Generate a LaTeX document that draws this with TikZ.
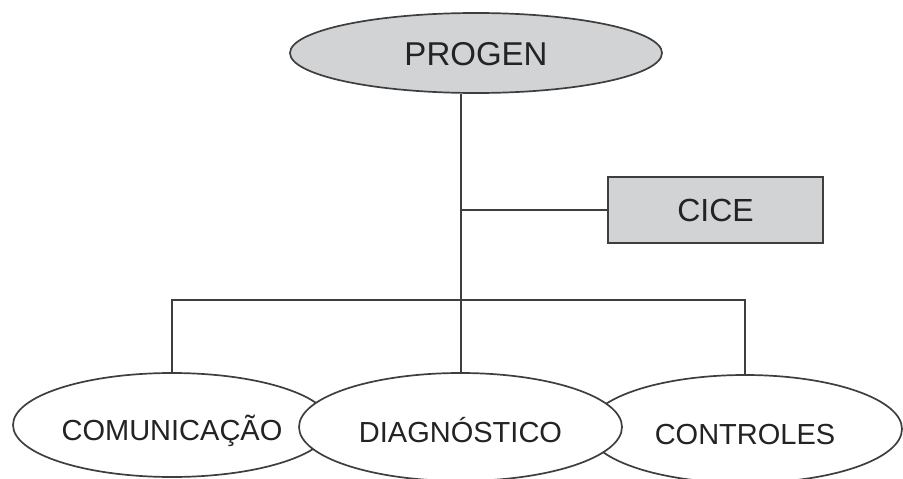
\documentclass[tikz,border=0pt]{standalone}
\usepackage{fontspec}
\setmainfont{Liberation Sans}
\usetikzlibrary{shapes.geometric}
\definecolor{boxfill}{RGB}{209,211,213}
\definecolor{linecol}{RGB}{62,62,62}
\definecolor{textcol}{RGB}{35,35,35}
\tikzset{
  conn/.style={draw=linecol, line width=2pt},
  topel/.style={ellipse, draw=linecol, line width=1.7pt, fill=boxfill, inner sep=0pt,
    text=textcol, font=\fontsize{33}{38}\selectfont, text height=25pt, text depth=0pt},
  sidebox/.style={rectangle, draw=linecol, line width=1.8pt, fill=boxfill, inner sep=0pt,
    text=textcol, font=\fontsize{32}{36}\selectfont, text height=23pt, text depth=0pt},
  botel/.style={ellipse, draw=linecol, line width=1.7pt, fill=white, inner sep=0pt,
    text=textcol, font=\fontsize{29}{34}\selectfont, text height=31pt, text depth=0pt},
}
\begin{document}
\begin{tikzpicture}[x=1pt, y=-1pt]
\useasboundingbox (0,0) rectangle (903,479);
\node[topel, minimum width=372pt, minimum height=80pt] (progen) at (476,53) {PROGEN\hspace{20pt}};
\node[sidebox, minimum width=215pt, minimum height=66pt] (cice) at (715.5,210) {CICE};
\coordinate (bar) at (461,300);
\node[botel, minimum width=318pt, minimum height=104pt] (com) at (172,425) {COMUNICAÇÃO};
\node[botel, minimum width=314pt, minimum height=108pt] (ctl) at (745,429) {CONTROLES};
\draw[conn] (com.north) -- (com.north |- bar) -- (ctl.north |- bar) -- (ctl.north);
\draw[conn] (cice.west) -- (cice.west -| bar);
\node[botel, minimum width=323pt, minimum height=108pt] (diag) at (460.5,427) {DIAGNÓSTICO};
\draw[conn] (diag.north |- progen.south) -- (diag.north);
\end{tikzpicture}
\end{document}
